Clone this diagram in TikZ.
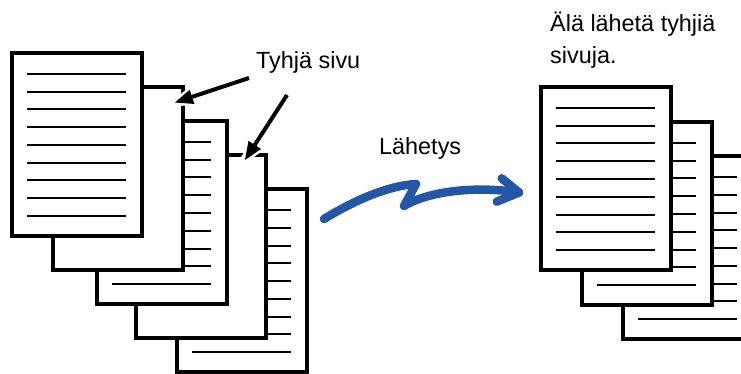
\documentclass[tikz,border=0pt]{standalone}
\usepackage{fontspec}
\setmainfont{Liberation Sans}
\usetikzlibrary{calc}
\definecolor{arrowblue}{RGB}{36,86,166}
\begin{document}
\begin{tikzpicture}[x=1pt,y=-1pt,
  pagebox/.style={draw=black, fill=white, line width=3.2pt, minimum width=130pt,
    minimum height=183pt, inner sep=0pt, outer sep=0pt, anchor=north west},
  textline/.style={line width=2pt},
  lbl/.style={font=\fontsize{23.4}{28}\selectfont, inner sep=0pt, anchor=base west},
  pointer/.style={line width=4pt},
  halo/.style={white, line width=10pt},
  haloHead/.style={fill=white, draw=white, line width=5pt, line join=round},
  sendarrow/.style={draw=arrowblue, line width=8.5pt, line cap=round, line join=round}
  ]
\useasboundingbox (0,0) rectangle (741,374);
\clip (0,0) rectangle (741,374);
\fill[white] (0,0) rectangle (741,374);

\newcommand{\pagelines}[1]{%
  \foreach \k in {0,...,8}
    \draw[textline] ($(#1.north west)+(15,21+17.75*\k)$) -- ++(99,0);}

% ---- left stack (back to front) ----
\node[pagebox] (l5) at (177,189) {};
\pagelines{l5}
\node[pagebox] (l4) at (136,155) {};
\node[pagebox] (l3) at (97,121) {};
\pagelines{l3}
\node[pagebox] (l2) at (53,87) {};
\node[pagebox] (l1) at (12,53) {};
\pagelines{l1}

% ---- right stack (back to front) ----
\node[pagebox] (rc) at (623,156) {};
\pagelines{rc}
\node[pagebox] (rb) at (582,122) {};
\pagelines{rb}
\node[pagebox] (ra) at (541,87) {};
\pagelines{ra}

% ---- labels ----
\node[lbl] (blank) at (256,68.3) {Tyhjä sivu};
\node[lbl] (send) at (379,155) {Lähetys};
\node[lbl] (note1) at (550,31.7) {Älä lähetä tyhjiä};
\node[lbl] (note2) at (550,63.3) {sivuja.};

% ---- black pointers ----
\coordinate (s1) at (249,78);
\coordinate (t1) at (175,102.5);
\coordinate (s2) at (287,95);
\coordinate (t2) at (245,160);
\foreach \s/\t in {s1/t1, s2/t2}{
  \coordinate (h) at ($(\t)!18pt!(\s)$);
  \draw[halo] (\s) -- (\t);
  \path[haloHead] (\t) -- ($(h)!7.5pt!90:(\t)$) -- ($(h)!7.5pt!-90:(\t)$) -- cycle;
  \draw[pointer] (\s) -- (h);
  \fill (\t) -- ($(h)!7.5pt!90:(\t)$) -- ($(h)!7.5pt!-90:(\t)$) -- cycle;
}

% ---- blue send arrow ----
\coordinate (b0) at (324,219);
\coordinate (b1) at (416,184);
\coordinate (b2) at (404,206);
\coordinate (b3) at (519,192.5);
\coordinate (bh1) at (501.7,178.3);
\coordinate (bh2) at (496.7,201.7);
\draw[sendarrow] (b0) .. controls (350,203) and (385,186) .. (b1) -- (b2)
  .. controls (425,193) and (470,185) .. (b3);
\draw[sendarrow] (bh1) -- (b3) -- (bh2);
\end{tikzpicture}
\end{document}
